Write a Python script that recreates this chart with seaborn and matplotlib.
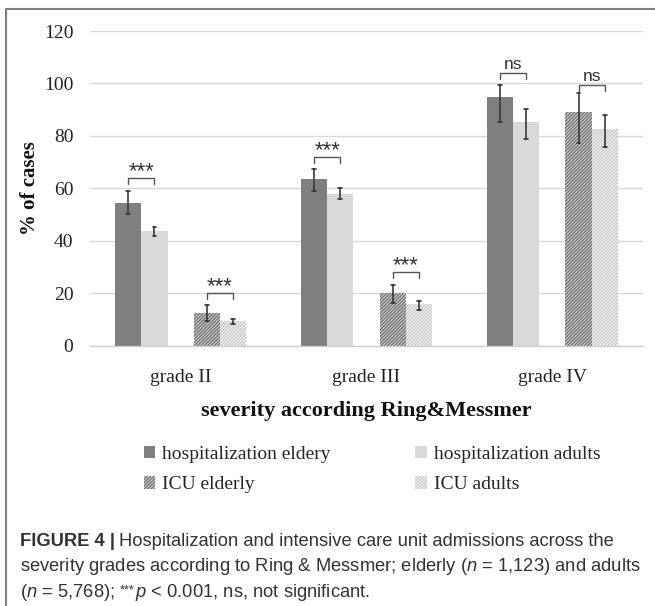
import numpy as np
import pandas as pd
import matplotlib
matplotlib.use("Agg")
import matplotlib.pyplot as plt
import seaborn as sns
from matplotlib.patches import Patch
from matplotlib.lines import Line2D
from matplotlib.colors import to_rgba

# ---------------- data ----------------
grades = ["grade II", "grade III", "grade IV"]
groups = ["hospitalization eldery", "hospitalization adults", "ICU elderly", "ICU adults"]

hosp_elderly = [54.3, 63.4, 95.0]
hosp_elderly_lo = [50.1, 59.0, 85.4]
hosp_elderly_hi = [58.9, 67.5, 99.3]

hosp_adults = [43.8, 57.9, 85.2]
hosp_adults_lo = [41.9, 55.8, 78.7]
hosp_adults_hi = [45.3, 60.0, 90.2]

icu_elderly = [12.5, 19.9, 89.1]
icu_elderly_lo = [9.5, 16.1, 77.2]
icu_elderly_hi = [15.5, 23.1, 96.3]

icu_adults = [9.4, 15.7, 82.6]
icu_adults_lo = [8.2, 13.5, 75.8]
icu_adults_hi = [10.0, 17.1, 88.0]

yticks = [0, 20, 40, 60, 80, 100, 120]

# significance brackets: (grade, pair, label, bracket level)
brackets = [
    ("grade II", "hosp", "***", 64.0),
    ("grade II", "icu", "***", 19.9),
    ("grade III", "hosp", "***", 72.1),
    ("grade III", "icu", "***", 27.9),
    ("grade IV", "hosp", "ns", 103.9),
    ("grade IV", "icu", "ns", 99.3),
]

series = {
    groups[0]: (hosp_elderly, hosp_elderly_lo, hosp_elderly_hi),
    groups[1]: (hosp_adults, hosp_adults_lo, hosp_adults_hi),
    groups[2]: (icu_elderly, icu_elderly_lo, icu_elderly_hi),
    groups[3]: (icu_adults, icu_adults_lo, icu_adults_hi),
}
rows = []
for g, (v, lo, hi) in series.items():
    for i, gr in enumerate(grades):
        for val in (lo[i], v[i], hi[i]):
            rows.append({"grade": gr, "group": g, "pct": val})
df = pd.DataFrame(rows)

GAP = " "
hue_order = [groups[0], groups[1], GAP, groups[2], groups[3]]
palette = {groups[0]: "#7f7f7f", groups[1]: "#d9d9d9", GAP: "#ffffff",
           groups[2]: "#c4c4c4", groups[3]: "#efefef"}
hatch_col = {groups[2]: "#6e6e6e", groups[3]: "#c6c6c6"}
HATCH = "//////////"

# ---------------- style ----------------
sns.set_style("white")
plt.rcParams["font.family"] = ["Liberation Serif", "DejaVu Serif"]
plt.rcParams["hatch.linewidth"] = 0.8
plt.rcParams["mathtext.fontset"] = "custom"
plt.rcParams["mathtext.rm"] = "Liberation Sans"
plt.rcParams["mathtext.it"] = "Liberation Sans:italic"
plt.rcParams["mathtext.bf"] = "Liberation Sans:bold"

fig = plt.figure(figsize=(6.55, 6.06), dpi=100)
W, H = 655.0, 606.0
ax = fig.add_axes([90 / W, 1 - 345.5 / H, 553 / W, (345.5 - 31) / H])

sns.barplot(data=df, x="grade", y="pct", hue="group", order=grades,
            hue_order=hue_order, palette=palette, estimator="median",
            errorbar=("pi", 100), capsize=0.1, width=0.705, saturation=1,
            err_kws=dict(color="#3a3a3a", linewidth=1.2), linewidth=0,
            legend=False, ax=ax)

# hatching & bar centers
col_to_group = {to_rgba(palette[g]): g for g in groups}
centers = {}
for p in ax.patches:
    fc = tuple(np.round(p.get_facecolor(), 4))
    grp = None
    for c, g in col_to_group.items():
        if np.allclose(fc, c, atol=0.01):
            grp = g
    if grp is None:
        continue
    cx = p.get_x() + p.get_width() / 2
    centers[(grp, grades[int(round(cx))])] = cx
    if grp in hatch_col:
        p.set_hatch(HATCH)
        p.set_edgecolor(hatch_col[grp])
        p.set_linewidth(0)

# brackets
for gr, pair, lab, yl in brackets:
    g1, g2 = (groups[0], groups[1]) if pair == "hosp" else (groups[2], groups[3])
    x1, x2 = centers[(g1, gr)], centers[(g2, gr)]
    ax.plot([x1, x1, x2, x2], [yl - 2.3, yl, yl, yl - 2.3], color="#555555",
            lw=1.0, solid_joinstyle="round", clip_on=False)
    if lab == "ns":
        ax.text((x1 + x2) / 2, yl + 0.3, lab, ha="center", va="bottom",
                family="Liberation Sans", fontsize=12.5, color="#333333")
    else:
        ax.text((x1 + x2) / 2, yl - 1.6, lab, ha="center", va="bottom",
                family="Liberation Sans", fontsize=16, color="#333333")

ax.set_ylim(0, 120)
ax.set_yticks(yticks)
ax.yaxis.grid(True, color="#d9d9d9", linewidth=1.0)
ax.set_axisbelow(True)
for s in ["left", "right", "top"]:
    ax.spines[s].set_visible(False)
ax.spines["bottom"].set_color("#cfcfcf")
ax.spines["bottom"].set_linewidth(1.0)
ax.tick_params(axis="both", length=0, labelsize=14, colors="#222222")
ax.tick_params(axis="y", pad=12)
ax.tick_params(axis="x", pad=17)
ax.set_ylabel("% of cases", fontsize=15, fontweight="bold", labelpad=3, color="#111111")
ax.set_xlabel("severity according Ring&Messmer", fontsize=16, fontweight="bold",
              labelpad=11, color="#111111")

# legend
handles = [Patch(facecolor=palette[g], edgecolor=hatch_col.get(g, palette[g]),
                 hatch=HATCH if g in hatch_col else None, linewidth=0) for g in groups]
order = [0, 2, 1, 3]
fig.legend([handles[i] for i in order], [groups[i] for i in order], ncol=2,
           loc="upper left", bbox_to_anchor=(134 / W, 1 - 436 / H), frameon=False,
           prop={"family": "Liberation Serif", "size": 14},
           handlelength=0.6, handleheight=0.6, handletextpad=0.35,
           columnspacing=4.35, labelspacing=0.7, borderpad=0)

# caption
cap_kw = dict(family="Liberation Sans", fontsize=13.2, color="#333333")
t1 = fig.text(20 / W, 1 - 550 / H, "FIGURE 4 |", fontweight="bold", va="bottom", **cap_kw)
ax.annotate("Hospitalization and intensive care unit admissions across the",
            xy=(1, 0), xycoords=t1, xytext=(3, 0), textcoords="offset points",
            va="bottom", ha="left", annotation_clip=False, **cap_kw)
fig.text(20 / W, 1 - 577 / H,
         "severity grades according to Ring & Messmer; elderly ($n$ = 1,123) and adults",
         va="bottom", **cap_kw)
t3 = fig.text(20 / W, 1 - 603 / H, r"($n$ = 5,768);", va="bottom", **cap_kw)
small_kw = dict(cap_kw)
small_kw["fontsize"] = 9
s3 = ax.annotate("***", xy=(1, 0), xycoords=t3, xytext=(3.5, 5),
                 textcoords="offset points", va="bottom", ha="left",
                 annotation_clip=False, **small_kw)
ax.annotate(r"$p$ < 0.001, ns, not significant.", xy=(1, 0), xycoords=(s3, t3),
            xytext=(0.5, 0), textcoords="offset points", va="bottom", ha="left",
            annotation_clip=False, **cap_kw)

# frame
fig.add_artist(Line2D([6 / W, 6 / W, 1.0], [0, 1 - 9 / H, 1 - 9 / H],
                      transform=fig.transFigure, color="#808080", lw=1.5))

fig.savefig("out.png", dpi=100)
